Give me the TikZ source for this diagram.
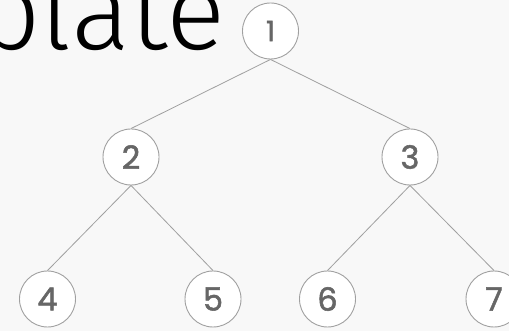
\documentclass[tikz,border=0pt]{standalone}
\usepackage{fontspec}
\setmainfont{Poppins}
\newfontfamily\digitfont[FakeBold=1.6]{Poppins}
\newfontfamily\titlefont{Fira Sans Light}
\definecolor{bgcol}{HTML}{F8F8F8}
\definecolor{ringcol}{HTML}{A0A0A0}
\definecolor{edgecol}{HTML}{A0A0A0}
\definecolor{digitcol}{HTML}{666666}
\tikzset{
  treenode/.style={circle, draw=ringcol, line width=0.9pt, fill=white,
    minimum size=56pt, inner sep=0pt, text=digitcol, font=\digitfont\fontsize{32}{32}\selectfont},
  rootnode/.style={treenode, font=\digitfont\fontsize{28}{28}\selectfont},
  treeedge/.style={draw=edgecol, line width=0.8pt}
}
\begin{document}
\begin{tikzpicture}[x=1pt, y=-1pt]
  \useasboundingbox (0,0) rectangle (509,331);
  \clip (0,0) rectangle (509,331);
  \fill[bgcol] (0,0) rectangle (509,331);

  % heading, mostly running off the top left corner
  \node[anchor=base east, inner sep=0pt, font=\titlefont\fontsize{110}{110}\selectfont]
    (title) at (226,50) {Template};

  % circle centres
  \path (270.5,31) coordinate (c1) (131,157) coordinate (c2) (410,157) coordinate (c3)
        (47.5,299) coordinate (c4) (213,299) coordinate (c5)
        (327.5,299) coordinate (c6) (494,299) coordinate (c7);

  % tree nodes
  \node[rootnode] (n1) at (c1) {1};
  \node[treenode] (n2) at (c2) {2};
  \node[treenode] (n3) at (c3) {3};
  \node[treenode] (n4) at (c4) {4};
  \node[treenode] (n5) at (c5) {5};
  \node[treenode] (n6) at (c6) {6};
  \node[treenode] (n7) at (c7) {7};

  % parent-child links
  \draw[treeedge] (n1.south) -- (n2.north);
  \draw[treeedge] (n1.south) -- (n3.north);
  \draw[treeedge] (n2.south) -- (n4.north);
  \draw[treeedge] (n2.south) -- (n5.north);
  \draw[treeedge] (n3.south) -- (n6.north);
  \draw[treeedge] (n3.south) -- (n7.north);
\end{tikzpicture}
\end{document}
